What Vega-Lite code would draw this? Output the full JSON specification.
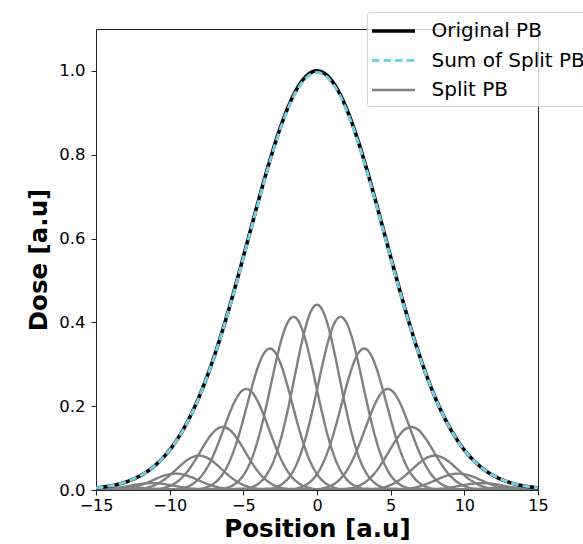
{
"$schema":"https://vega.github.io/schema/vega-lite/v6.json",
"width":442,"height":461,
"autosize":{"type":"none"},
"padding":{"left":96,"top":29,"right":45,"bottom":54},
"config":{"font":"DejaVu Sans","view":{"stroke":"#222","strokeWidth":1}},
"datasets":{
"orig":[{"x":-15,"y":0.0051,"s":"o"},{"x":-14.5,"y":0.0072,"s":"o"},{"x":-14,"y":0.01,"s":"o"},{"x":-13.5,"y":0.0139,"s":"o"},{"x":-13,"y":0.0189,"s":"o"},{"x":-12.5,"y":0.0255,"s":"o"},{"x":-12,"y":0.034,"s":"o"},{"x":-11.5,"y":0.0448,"s":"o"},{"x":-11,"y":0.0584,"s":"o"},{"x":-10.5,"y":0.0752,"s":"o"},{"x":-10,"y":0.0956,"s":"o"},{"x":-9.5,"y":0.1202,"s":"o"},{"x":-9,"y":0.1494,"s":"o"},{"x":-8.5,"y":0.1834,"s":"o"},{"x":-8,"y":0.2226,"s":"o"},{"x":-7.5,"y":0.267,"s":"o"},{"x":-7,"y":0.3166,"s":"o"},{"x":-6.5,"y":0.3709,"s":"o"},{"x":-6,"y":0.4295,"s":"o"},{"x":-5.5,"y":0.4916,"s":"o"},{"x":-5,"y":0.5561,"s":"o"},{"x":-4.5,"y":0.6217,"s":"o"},{"x":-4,"y":0.6869,"s":"o"},{"x":-3.5,"y":0.7501,"s":"o"},{"x":-3,"y":0.8096,"s":"o"},{"x":-2.5,"y":0.8635,"s":"o"},{"x":-2,"y":0.9104,"s":"o"},{"x":-1.5,"y":0.9486,"s":"o"},{"x":-1,"y":0.9768,"s":"o"},{"x":-0.5,"y":0.9942,"s":"o"},{"x":0,"y":1,"s":"o"},{"x":0.5,"y":0.9942,"s":"o"},{"x":1,"y":0.9768,"s":"o"},{"x":1.5,"y":0.9486,"s":"o"},{"x":2,"y":0.9104,"s":"o"},{"x":2.5,"y":0.8635,"s":"o"},{"x":3,"y":0.8096,"s":"o"},{"x":3.5,"y":0.7501,"s":"o"},{"x":4,"y":0.6869,"s":"o"},{"x":4.5,"y":0.6217,"s":"o"},{"x":5,"y":0.5561,"s":"o"},{"x":5.5,"y":0.4916,"s":"o"},{"x":6,"y":0.4295,"s":"o"},{"x":6.5,"y":0.3709,"s":"o"},{"x":7,"y":0.3166,"s":"o"},{"x":7.5,"y":0.267,"s":"o"},{"x":8,"y":0.2226,"s":"o"},{"x":8.5,"y":0.1834,"s":"o"},{"x":9,"y":0.1494,"s":"o"},{"x":9.5,"y":0.1202,"s":"o"},{"x":10,"y":0.0956,"s":"o"},{"x":10.5,"y":0.0752,"s":"o"},{"x":11,"y":0.0584,"s":"o"},{"x":11.5,"y":0.0448,"s":"o"},{"x":12,"y":0.034,"s":"o"},{"x":12.5,"y":0.0255,"s":"o"},{"x":13,"y":0.0189,"s":"o"},{"x":13.5,"y":0.0139,"s":"o"},{"x":14,"y":0.01,"s":"o"},{"x":14.5,"y":0.0072,"s":"o"},{"x":15,"y":0.0051,"s":"o"}],
"sum":[{"x":-15,"y":0.0051,"s":"s"},{"x":-14.5,"y":0.0072,"s":"s"},{"x":-14,"y":0.01,"s":"s"},{"x":-13.5,"y":0.0138,"s":"s"},{"x":-13,"y":0.0188,"s":"s"},{"x":-12.5,"y":0.0254,"s":"s"},{"x":-12,"y":0.0339,"s":"s"},{"x":-11.5,"y":0.0446,"s":"s"},{"x":-11,"y":0.0582,"s":"s"},{"x":-10.5,"y":0.0749,"s":"s"},{"x":-10,"y":0.0952,"s":"s"},{"x":-9.5,"y":0.1197,"s":"s"},{"x":-9,"y":0.1488,"s":"s"},{"x":-8.5,"y":0.1827,"s":"s"},{"x":-8,"y":0.2217,"s":"s"},{"x":-7.5,"y":0.2659,"s":"s"},{"x":-7,"y":0.3153,"s":"s"},{"x":-6.5,"y":0.3694,"s":"s"},{"x":-6,"y":0.4278,"s":"s"},{"x":-5.5,"y":0.4896,"s":"s"},{"x":-5,"y":0.5539,"s":"s"},{"x":-4.5,"y":0.6192,"s":"s"},{"x":-4,"y":0.6842,"s":"s"},{"x":-3.5,"y":0.7471,"s":"s"},{"x":-3,"y":0.8064,"s":"s"},{"x":-2.5,"y":0.86,"s":"s"},{"x":-2,"y":0.9068,"s":"s"},{"x":-1.5,"y":0.9448,"s":"s"},{"x":-1,"y":0.9729,"s":"s"},{"x":-0.5,"y":0.9902,"s":"s"},{"x":0,"y":0.996,"s":"s"},{"x":0.5,"y":0.9902,"s":"s"},{"x":1,"y":0.9729,"s":"s"},{"x":1.5,"y":0.9448,"s":"s"},{"x":2,"y":0.9068,"s":"s"},{"x":2.5,"y":0.86,"s":"s"},{"x":3,"y":0.8064,"s":"s"},{"x":3.5,"y":0.7471,"s":"s"},{"x":4,"y":0.6842,"s":"s"},{"x":4.5,"y":0.6192,"s":"s"},{"x":5,"y":0.5539,"s":"s"},{"x":5.5,"y":0.4896,"s":"s"},{"x":6,"y":0.4278,"s":"s"},{"x":6.5,"y":0.3694,"s":"s"},{"x":7,"y":0.3153,"s":"s"},{"x":7.5,"y":0.2659,"s":"s"},{"x":8,"y":0.2217,"s":"s"},{"x":8.5,"y":0.1827,"s":"s"},{"x":9,"y":0.1488,"s":"s"},{"x":9.5,"y":0.1197,"s":"s"},{"x":10,"y":0.0952,"s":"s"},{"x":10.5,"y":0.0749,"s":"s"},{"x":11,"y":0.0582,"s":"s"},{"x":11.5,"y":0.0446,"s":"s"},{"x":12,"y":0.0339,"s":"s"},{"x":12.5,"y":0.0254,"s":"s"},{"x":13,"y":0.0188,"s":"s"},{"x":13.5,"y":0.0138,"s":"s"},{"x":14,"y":0.01,"s":"s"},{"x":14.5,"y":0.0072,"s":"s"},{"x":15,"y":0.0051,"s":"s"}],
"split":[
{"x":-15,"y":0.0021,"b":-12.8,"s":"p"},{"x":-14.8,"y":0.0025,"b":-12.8,"s":"p"},{"x":-14.4,"y":0.0034,"b":-12.8,"s":"p"},{"x":-14,"y":0.0043,"b":-12.8,"s":"p"},{"x":-13.6,"y":0.0052,"b":-12.8,"s":"p"},{"x":-13.2,"y":0.0057,"b":-12.8,"s":"p"},{"x":-12.8,"y":0.0059,"b":-12.8,"s":"p"},{"x":-12.4,"y":0.0057,"b":-12.8,"s":"p"},{"x":-12,"y":0.0052,"b":-12.8,"s":"p"},{"x":-11.6,"y":0.0043,"b":-12.8,"s":"p"},{"x":-11.2,"y":0.0034,"b":-12.8,"s":"p"},{"x":-10.8,"y":0.0025,"b":-12.8,"s":"p"},{"x":-10.4,"y":0.0017,"b":-12.8,"s":"p"},{"x":-10,"y":0.0011,"b":-12.8,"s":"p"},{"x":-9.6,"y":0.0007,"b":-12.8,"s":"p"},{"x":-9.2,"y":0.0004,"b":-12.8,"s":"p"},{"x":-8.8,"y":0.0002,"b":-12.8,"s":"p"},{"x":-8.4,"y":0.0001,"b":-12.8,"s":"p"},{"x":-8,"y":0,"b":-12.8,"s":"p"},{"x":15,"y":0,"b":-12.8,"s":"p"},
{"x":-15,"y":0.0008,"b":-11.2,"s":"p"},{"x":-14.8,"y":0.001,"b":-11.2,"s":"p"},{"x":-14.4,"y":0.0018,"b":-11.2,"s":"p"},{"x":-14,"y":0.0031,"b":-11.2,"s":"p"},{"x":-13.6,"y":0.0048,"b":-11.2,"s":"p"},{"x":-13.2,"y":0.0069,"b":-11.2,"s":"p"},{"x":-12.8,"y":0.0094,"b":-11.2,"s":"p"},{"x":-12.4,"y":0.012,"b":-11.2,"s":"p"},{"x":-12,"y":0.0142,"b":-11.2,"s":"p"},{"x":-11.6,"y":0.0158,"b":-11.2,"s":"p"},{"x":-11.2,"y":0.0163,"b":-11.2,"s":"p"},{"x":-10.8,"y":0.0158,"b":-11.2,"s":"p"},{"x":-10.4,"y":0.0142,"b":-11.2,"s":"p"},{"x":-10,"y":0.012,"b":-11.2,"s":"p"},{"x":-9.6,"y":0.0094,"b":-11.2,"s":"p"},{"x":-9.2,"y":0.0069,"b":-11.2,"s":"p"},{"x":-8.8,"y":0.0048,"b":-11.2,"s":"p"},{"x":-8.4,"y":0.0031,"b":-11.2,"s":"p"},{"x":-8,"y":0.0018,"b":-11.2,"s":"p"},{"x":-7.6,"y":0.001,"b":-11.2,"s":"p"},{"x":-7.2,"y":0.0005,"b":-11.2,"s":"p"},{"x":-6.8,"y":0.0003,"b":-11.2,"s":"p"},{"x":-6.4,"y":0.0001,"b":-11.2,"s":"p"},{"x":15,"y":0,"b":-11.2,"s":"p"},
{"x":-15,"y":0,"b":-9.6,"s":"p"},{"x":-14.4,"y":0.0003,"b":-9.6,"s":"p"},{"x":-14,"y":0.0006,"b":-9.6,"s":"p"},{"x":-13.6,"y":0.0013,"b":-9.6,"s":"p"},{"x":-13.2,"y":0.0025,"b":-9.6,"s":"p"},{"x":-12.8,"y":0.0044,"b":-9.6,"s":"p"},{"x":-12.4,"y":0.0073,"b":-9.6,"s":"p"},{"x":-12,"y":0.0114,"b":-9.6,"s":"p"},{"x":-11.6,"y":0.0166,"b":-9.6,"s":"p"},{"x":-11.2,"y":0.0226,"b":-9.6,"s":"p"},{"x":-10.8,"y":0.0287,"b":-9.6,"s":"p"},{"x":-10.4,"y":0.0341,"b":-9.6,"s":"p"},{"x":-10,"y":0.0378,"b":-9.6,"s":"p"},{"x":-9.6,"y":0.0391,"b":-9.6,"s":"p"},{"x":-9.2,"y":0.0378,"b":-9.6,"s":"p"},{"x":-8.8,"y":0.0341,"b":-9.6,"s":"p"},{"x":-8.4,"y":0.0287,"b":-9.6,"s":"p"},{"x":-8,"y":0.0226,"b":-9.6,"s":"p"},{"x":-7.6,"y":0.0166,"b":-9.6,"s":"p"},{"x":-7.2,"y":0.0114,"b":-9.6,"s":"p"},{"x":-6.8,"y":0.0073,"b":-9.6,"s":"p"},{"x":-6.4,"y":0.0044,"b":-9.6,"s":"p"},{"x":-6,"y":0.0025,"b":-9.6,"s":"p"},{"x":-5.6,"y":0.0013,"b":-9.6,"s":"p"},{"x":-5.2,"y":0.0006,"b":-9.6,"s":"p"},{"x":-4.8,"y":0.0003,"b":-9.6,"s":"p"},{"x":15,"y":0,"b":-9.6,"s":"p"},
{"x":-15,"y":0,"b":-8,"s":"p"},{"x":-12.8,"y":0.0006,"b":-8,"s":"p"},{"x":-12.4,"y":0.0013,"b":-8,"s":"p"},{"x":-12,"y":0.0027,"b":-8,"s":"p"},{"x":-11.6,"y":0.0051,"b":-8,"s":"p"},{"x":-11.2,"y":0.0092,"b":-8,"s":"p"},{"x":-10.8,"y":0.0154,"b":-8,"s":"p"},{"x":-10.4,"y":0.024,"b":-8,"s":"p"},{"x":-10,"y":0.0349,"b":-8,"s":"p"},{"x":-9.6,"y":0.0475,"b":-8,"s":"p"},{"x":-9.2,"y":0.0603,"b":-8,"s":"p"},{"x":-8.8,"y":0.0715,"b":-8,"s":"p"},{"x":-8.4,"y":0.0792,"b":-8,"s":"p"},{"x":-8,"y":0.082,"b":-8,"s":"p"},{"x":-7.6,"y":0.0792,"b":-8,"s":"p"},{"x":-7.2,"y":0.0715,"b":-8,"s":"p"},{"x":-6.8,"y":0.0603,"b":-8,"s":"p"},{"x":-6.4,"y":0.0475,"b":-8,"s":"p"},{"x":-6,"y":0.0349,"b":-8,"s":"p"},{"x":-5.6,"y":0.024,"b":-8,"s":"p"},{"x":-5.2,"y":0.0154,"b":-8,"s":"p"},{"x":-4.8,"y":0.0092,"b":-8,"s":"p"},{"x":-4.4,"y":0.0051,"b":-8,"s":"p"},{"x":-4,"y":0.0027,"b":-8,"s":"p"},{"x":-3.6,"y":0.0013,"b":-8,"s":"p"},{"x":-3.2,"y":0.0006,"b":-8,"s":"p"},{"x":15,"y":0,"b":-8,"s":"p"},
{"x":-15,"y":0,"b":-6.4,"s":"p"},{"x":-11.2,"y":0.0011,"b":-6.4,"s":"p"},{"x":-10.8,"y":0.0024,"b":-6.4,"s":"p"},{"x":-10.4,"y":0.0049,"b":-6.4,"s":"p"},{"x":-10,"y":0.0094,"b":-6.4,"s":"p"},{"x":-9.6,"y":0.0169,"b":-6.4,"s":"p"},{"x":-9.2,"y":0.0282,"b":-6.4,"s":"p"},{"x":-8.8,"y":0.0439,"b":-6.4,"s":"p"},{"x":-8.4,"y":0.064,"b":-6.4,"s":"p"},{"x":-8,"y":0.087,"b":-6.4,"s":"p"},{"x":-7.6,"y":0.1106,"b":-6.4,"s":"p"},{"x":-7.2,"y":0.1312,"b":-6.4,"s":"p"},{"x":-6.8,"y":0.1454,"b":-6.4,"s":"p"},{"x":-6.4,"y":0.1504,"b":-6.4,"s":"p"},{"x":-6,"y":0.1454,"b":-6.4,"s":"p"},{"x":-5.6,"y":0.1312,"b":-6.4,"s":"p"},{"x":-5.2,"y":0.1106,"b":-6.4,"s":"p"},{"x":-4.8,"y":0.087,"b":-6.4,"s":"p"},{"x":-4.4,"y":0.064,"b":-6.4,"s":"p"},{"x":-4,"y":0.0439,"b":-6.4,"s":"p"},{"x":-3.6,"y":0.0282,"b":-6.4,"s":"p"},{"x":-3.2,"y":0.0169,"b":-6.4,"s":"p"},{"x":-2.8,"y":0.0094,"b":-6.4,"s":"p"},{"x":-2.4,"y":0.0049,"b":-6.4,"s":"p"},{"x":-2,"y":0.0024,"b":-6.4,"s":"p"},{"x":-1.6,"y":0.0011,"b":-6.4,"s":"p"},{"x":15,"y":0,"b":-6.4,"s":"p"},
{"x":-15,"y":0,"b":-4.8,"s":"p"},{"x":-9.6,"y":0.0018,"b":-4.8,"s":"p"},{"x":-9.2,"y":0.0039,"b":-4.8,"s":"p"},{"x":-8.8,"y":0.0079,"b":-4.8,"s":"p"},{"x":-8.4,"y":0.0151,"b":-4.8,"s":"p"},{"x":-8,"y":0.027,"b":-4.8,"s":"p"},{"x":-7.6,"y":0.0451,"b":-4.8,"s":"p"},{"x":-7.2,"y":0.0704,"b":-4.8,"s":"p"},{"x":-6.8,"y":0.1025,"b":-4.8,"s":"p"},{"x":-6.4,"y":0.1395,"b":-4.8,"s":"p"},{"x":-6,"y":0.1772,"b":-4.8,"s":"p"},{"x":-5.6,"y":0.2102,"b":-4.8,"s":"p"},{"x":-5.2,"y":0.2329,"b":-4.8,"s":"p"},{"x":-4.8,"y":0.241,"b":-4.8,"s":"p"},{"x":-4.4,"y":0.2329,"b":-4.8,"s":"p"},{"x":-4,"y":0.2102,"b":-4.8,"s":"p"},{"x":-3.6,"y":0.1772,"b":-4.8,"s":"p"},{"x":-3.2,"y":0.1395,"b":-4.8,"s":"p"},{"x":-2.8,"y":0.1025,"b":-4.8,"s":"p"},{"x":-2.4,"y":0.0704,"b":-4.8,"s":"p"},{"x":-2,"y":0.0451,"b":-4.8,"s":"p"},{"x":-1.6,"y":0.027,"b":-4.8,"s":"p"},{"x":-1.2,"y":0.0151,"b":-4.8,"s":"p"},{"x":-0.8,"y":0.0079,"b":-4.8,"s":"p"},{"x":-0.4,"y":0.0039,"b":-4.8,"s":"p"},{"x":0,"y":0.0018,"b":-4.8,"s":"p"},{"x":15,"y":0,"b":-4.8,"s":"p"},
{"x":-15,"y":0,"b":-3.2,"s":"p"},{"x":-8,"y":0.0025,"b":-3.2,"s":"p"},{"x":-7.6,"y":0.0054,"b":-3.2,"s":"p"},{"x":-7.2,"y":0.011,"b":-3.2,"s":"p"},{"x":-6.8,"y":0.0212,"b":-3.2,"s":"p"},{"x":-6.4,"y":0.0378,"b":-3.2,"s":"p"},{"x":-6,"y":0.0632,"b":-3.2,"s":"p"},{"x":-5.6,"y":0.0986,"b":-3.2,"s":"p"},{"x":-5.2,"y":0.1436,"b":-3.2,"s":"p"},{"x":-4.8,"y":0.1954,"b":-3.2,"s":"p"},{"x":-4.4,"y":0.2482,"b":-3.2,"s":"p"},{"x":-4,"y":0.2945,"b":-3.2,"s":"p"},{"x":-3.6,"y":0.3263,"b":-3.2,"s":"p"},{"x":-3.2,"y":0.3376,"b":-3.2,"s":"p"},{"x":-2.8,"y":0.3263,"b":-3.2,"s":"p"},{"x":-2.4,"y":0.2945,"b":-3.2,"s":"p"},{"x":-2,"y":0.2482,"b":-3.2,"s":"p"},{"x":-1.6,"y":0.1954,"b":-3.2,"s":"p"},{"x":-1.2,"y":0.1436,"b":-3.2,"s":"p"},{"x":-0.8,"y":0.0986,"b":-3.2,"s":"p"},{"x":-0.4,"y":0.0632,"b":-3.2,"s":"p"},{"x":0,"y":0.0378,"b":-3.2,"s":"p"},{"x":0.4,"y":0.0212,"b":-3.2,"s":"p"},{"x":0.8,"y":0.011,"b":-3.2,"s":"p"},{"x":1.2,"y":0.0054,"b":-3.2,"s":"p"},{"x":1.6,"y":0.0025,"b":-3.2,"s":"p"},{"x":15,"y":0,"b":-3.2,"s":"p"},
{"x":-15,"y":0,"b":-1.6,"s":"p"},{"x":-6.4,"y":0.003,"b":-1.6,"s":"p"},{"x":-6,"y":0.0066,"b":-1.6,"s":"p"},{"x":-5.6,"y":0.0135,"b":-1.6,"s":"p"},{"x":-5.2,"y":0.0259,"b":-1.6,"s":"p"},{"x":-4.8,"y":0.0463,"b":-1.6,"s":"p"},{"x":-4.4,"y":0.0774,"b":-1.6,"s":"p"},{"x":-4,"y":0.1207,"b":-1.6,"s":"p"},{"x":-3.6,"y":0.1758,"b":-1.6,"s":"p"},{"x":-3.2,"y":0.2391,"b":-1.6,"s":"p"},{"x":-2.8,"y":0.3037,"b":-1.6,"s":"p"},{"x":-2.4,"y":0.3604,"b":-1.6,"s":"p"},{"x":-2,"y":0.3993,"b":-1.6,"s":"p"},{"x":-1.6,"y":0.4132,"b":-1.6,"s":"p"},{"x":-1.2,"y":0.3993,"b":-1.6,"s":"p"},{"x":-0.8,"y":0.3604,"b":-1.6,"s":"p"},{"x":-0.4,"y":0.3037,"b":-1.6,"s":"p"},{"x":0,"y":0.2391,"b":-1.6,"s":"p"},{"x":0.4,"y":0.1758,"b":-1.6,"s":"p"},{"x":0.8,"y":0.1207,"b":-1.6,"s":"p"},{"x":1.2,"y":0.0774,"b":-1.6,"s":"p"},{"x":1.6,"y":0.0463,"b":-1.6,"s":"p"},{"x":2,"y":0.0259,"b":-1.6,"s":"p"},{"x":2.4,"y":0.0135,"b":-1.6,"s":"p"},{"x":2.8,"y":0.0066,"b":-1.6,"s":"p"},{"x":3.2,"y":0.003,"b":-1.6,"s":"p"},{"x":15,"y":0,"b":-1.6,"s":"p"},
{"x":-15,"y":0,"b":0,"s":"p"},{"x":-4.8,"y":0.0032,"b":0,"s":"p"},{"x":-4.4,"y":0.0071,"b":0,"s":"p"},{"x":-4,"y":0.0145,"b":0,"s":"p"},{"x":-3.6,"y":0.0277,"b":0,"s":"p"},{"x":-3.2,"y":0.0495,"b":0,"s":"p"},{"x":-2.8,"y":0.0828,"b":0,"s":"p"},{"x":-2.4,"y":0.1291,"b":0,"s":"p"},{"x":-2,"y":0.188,"b":0,"s":"p"},{"x":-1.6,"y":0.2558,"b":0,"s":"p"},{"x":-1.2,"y":0.3249,"b":0,"s":"p"},{"x":-0.8,"y":0.3855,"b":0,"s":"p"},{"x":-0.4,"y":0.4272,"b":0,"s":"p"},{"x":0,"y":0.442,"b":0,"s":"p"},{"x":0.4,"y":0.4272,"b":0,"s":"p"},{"x":0.8,"y":0.3855,"b":0,"s":"p"},{"x":1.2,"y":0.3249,"b":0,"s":"p"},{"x":1.6,"y":0.2558,"b":0,"s":"p"},{"x":2,"y":0.188,"b":0,"s":"p"},{"x":2.4,"y":0.1291,"b":0,"s":"p"},{"x":2.8,"y":0.0828,"b":0,"s":"p"},{"x":3.2,"y":0.0495,"b":0,"s":"p"},{"x":3.6,"y":0.0277,"b":0,"s":"p"},{"x":4,"y":0.0145,"b":0,"s":"p"},{"x":4.4,"y":0.0071,"b":0,"s":"p"},{"x":4.8,"y":0.0032,"b":0,"s":"p"},{"x":15,"y":0,"b":0,"s":"p"},
{"x":-15,"y":0,"b":1.6,"s":"p"},{"x":-3.2,"y":0.003,"b":1.6,"s":"p"},{"x":-2.8,"y":0.0066,"b":1.6,"s":"p"},{"x":-2.4,"y":0.0135,"b":1.6,"s":"p"},{"x":-2,"y":0.0259,"b":1.6,"s":"p"},{"x":-1.6,"y":0.0463,"b":1.6,"s":"p"},{"x":-1.2,"y":0.0774,"b":1.6,"s":"p"},{"x":-0.8,"y":0.1207,"b":1.6,"s":"p"},{"x":-0.4,"y":0.1758,"b":1.6,"s":"p"},{"x":0,"y":0.2391,"b":1.6,"s":"p"},{"x":0.4,"y":0.3037,"b":1.6,"s":"p"},{"x":0.8,"y":0.3604,"b":1.6,"s":"p"},{"x":1.2,"y":0.3993,"b":1.6,"s":"p"},{"x":1.6,"y":0.4132,"b":1.6,"s":"p"},{"x":2,"y":0.3993,"b":1.6,"s":"p"},{"x":2.4,"y":0.3604,"b":1.6,"s":"p"},{"x":2.8,"y":0.3037,"b":1.6,"s":"p"},{"x":3.2,"y":0.2391,"b":1.6,"s":"p"},{"x":3.6,"y":0.1758,"b":1.6,"s":"p"},{"x":4,"y":0.1207,"b":1.6,"s":"p"},{"x":4.4,"y":0.0774,"b":1.6,"s":"p"},{"x":4.8,"y":0.0463,"b":1.6,"s":"p"},{"x":5.2,"y":0.0259,"b":1.6,"s":"p"},{"x":5.6,"y":0.0135,"b":1.6,"s":"p"},{"x":6,"y":0.0066,"b":1.6,"s":"p"},{"x":6.4,"y":0.003,"b":1.6,"s":"p"},{"x":15,"y":0,"b":1.6,"s":"p"},
{"x":-15,"y":0,"b":3.2,"s":"p"},{"x":-1.6,"y":0.0025,"b":3.2,"s":"p"},{"x":-1.2,"y":0.0054,"b":3.2,"s":"p"},{"x":-0.8,"y":0.011,"b":3.2,"s":"p"},{"x":-0.4,"y":0.0212,"b":3.2,"s":"p"},{"x":0,"y":0.0378,"b":3.2,"s":"p"},{"x":0.4,"y":0.0632,"b":3.2,"s":"p"},{"x":0.8,"y":0.0986,"b":3.2,"s":"p"},{"x":1.2,"y":0.1436,"b":3.2,"s":"p"},{"x":1.6,"y":0.1954,"b":3.2,"s":"p"},{"x":2,"y":0.2482,"b":3.2,"s":"p"},{"x":2.4,"y":0.2945,"b":3.2,"s":"p"},{"x":2.8,"y":0.3263,"b":3.2,"s":"p"},{"x":3.2,"y":0.3376,"b":3.2,"s":"p"},{"x":3.6,"y":0.3263,"b":3.2,"s":"p"},{"x":4,"y":0.2945,"b":3.2,"s":"p"},{"x":4.4,"y":0.2482,"b":3.2,"s":"p"},{"x":4.8,"y":0.1954,"b":3.2,"s":"p"},{"x":5.2,"y":0.1436,"b":3.2,"s":"p"},{"x":5.6,"y":0.0986,"b":3.2,"s":"p"},{"x":6,"y":0.0632,"b":3.2,"s":"p"},{"x":6.4,"y":0.0378,"b":3.2,"s":"p"},{"x":6.8,"y":0.0212,"b":3.2,"s":"p"},{"x":7.2,"y":0.011,"b":3.2,"s":"p"},{"x":7.6,"y":0.0054,"b":3.2,"s":"p"},{"x":8,"y":0.0025,"b":3.2,"s":"p"},{"x":15,"y":0,"b":3.2,"s":"p"},
{"x":-15,"y":0,"b":4.8,"s":"p"},{"x":0,"y":0.0018,"b":4.8,"s":"p"},{"x":0.4,"y":0.0039,"b":4.8,"s":"p"},{"x":0.8,"y":0.0079,"b":4.8,"s":"p"},{"x":1.2,"y":0.0151,"b":4.8,"s":"p"},{"x":1.6,"y":0.027,"b":4.8,"s":"p"},{"x":2,"y":0.0451,"b":4.8,"s":"p"},{"x":2.4,"y":0.0704,"b":4.8,"s":"p"},{"x":2.8,"y":0.1025,"b":4.8,"s":"p"},{"x":3.2,"y":0.1395,"b":4.8,"s":"p"},{"x":3.6,"y":0.1772,"b":4.8,"s":"p"},{"x":4,"y":0.2102,"b":4.8,"s":"p"},{"x":4.4,"y":0.2329,"b":4.8,"s":"p"},{"x":4.8,"y":0.241,"b":4.8,"s":"p"},{"x":5.2,"y":0.2329,"b":4.8,"s":"p"},{"x":5.6,"y":0.2102,"b":4.8,"s":"p"},{"x":6,"y":0.1772,"b":4.8,"s":"p"},{"x":6.4,"y":0.1395,"b":4.8,"s":"p"},{"x":6.8,"y":0.1025,"b":4.8,"s":"p"},{"x":7.2,"y":0.0704,"b":4.8,"s":"p"},{"x":7.6,"y":0.0451,"b":4.8,"s":"p"},{"x":8,"y":0.027,"b":4.8,"s":"p"},{"x":8.4,"y":0.0151,"b":4.8,"s":"p"},{"x":8.8,"y":0.0079,"b":4.8,"s":"p"},{"x":9.2,"y":0.0039,"b":4.8,"s":"p"},{"x":9.6,"y":0.0018,"b":4.8,"s":"p"},{"x":15,"y":0,"b":4.8,"s":"p"},
{"x":-15,"y":0,"b":6.4,"s":"p"},{"x":1.6,"y":0.0011,"b":6.4,"s":"p"},{"x":2,"y":0.0024,"b":6.4,"s":"p"},{"x":2.4,"y":0.0049,"b":6.4,"s":"p"},{"x":2.8,"y":0.0094,"b":6.4,"s":"p"},{"x":3.2,"y":0.0169,"b":6.4,"s":"p"},{"x":3.6,"y":0.0282,"b":6.4,"s":"p"},{"x":4,"y":0.0439,"b":6.4,"s":"p"},{"x":4.4,"y":0.064,"b":6.4,"s":"p"},{"x":4.8,"y":0.087,"b":6.4,"s":"p"},{"x":5.2,"y":0.1106,"b":6.4,"s":"p"},{"x":5.6,"y":0.1312,"b":6.4,"s":"p"},{"x":6,"y":0.1454,"b":6.4,"s":"p"},{"x":6.4,"y":0.1504,"b":6.4,"s":"p"},{"x":6.8,"y":0.1454,"b":6.4,"s":"p"},{"x":7.2,"y":0.1312,"b":6.4,"s":"p"},{"x":7.6,"y":0.1106,"b":6.4,"s":"p"},{"x":8,"y":0.087,"b":6.4,"s":"p"},{"x":8.4,"y":0.064,"b":6.4,"s":"p"},{"x":8.8,"y":0.0439,"b":6.4,"s":"p"},{"x":9.2,"y":0.0282,"b":6.4,"s":"p"},{"x":9.6,"y":0.0169,"b":6.4,"s":"p"},{"x":10,"y":0.0094,"b":6.4,"s":"p"},{"x":10.4,"y":0.0049,"b":6.4,"s":"p"},{"x":10.8,"y":0.0024,"b":6.4,"s":"p"},{"x":11.2,"y":0.0011,"b":6.4,"s":"p"},{"x":15,"y":0,"b":6.4,"s":"p"},
{"x":-15,"y":0,"b":8,"s":"p"},{"x":3.2,"y":0.0006,"b":8,"s":"p"},{"x":3.6,"y":0.0013,"b":8,"s":"p"},{"x":4,"y":0.0027,"b":8,"s":"p"},{"x":4.4,"y":0.0051,"b":8,"s":"p"},{"x":4.8,"y":0.0092,"b":8,"s":"p"},{"x":5.2,"y":0.0154,"b":8,"s":"p"},{"x":5.6,"y":0.024,"b":8,"s":"p"},{"x":6,"y":0.0349,"b":8,"s":"p"},{"x":6.4,"y":0.0475,"b":8,"s":"p"},{"x":6.8,"y":0.0603,"b":8,"s":"p"},{"x":7.2,"y":0.0715,"b":8,"s":"p"},{"x":7.6,"y":0.0792,"b":8,"s":"p"},{"x":8,"y":0.082,"b":8,"s":"p"},{"x":8.4,"y":0.0792,"b":8,"s":"p"},{"x":8.8,"y":0.0715,"b":8,"s":"p"},{"x":9.2,"y":0.0603,"b":8,"s":"p"},{"x":9.6,"y":0.0475,"b":8,"s":"p"},{"x":10,"y":0.0349,"b":8,"s":"p"},{"x":10.4,"y":0.024,"b":8,"s":"p"},{"x":10.8,"y":0.0154,"b":8,"s":"p"},{"x":11.2,"y":0.0092,"b":8,"s":"p"},{"x":11.6,"y":0.0051,"b":8,"s":"p"},{"x":12,"y":0.0027,"b":8,"s":"p"},{"x":12.4,"y":0.0013,"b":8,"s":"p"},{"x":12.8,"y":0.0006,"b":8,"s":"p"},{"x":15,"y":0,"b":8,"s":"p"},
{"x":-15,"y":0,"b":9.6,"s":"p"},{"x":4.8,"y":0.0003,"b":9.6,"s":"p"},{"x":5.2,"y":0.0006,"b":9.6,"s":"p"},{"x":5.6,"y":0.0013,"b":9.6,"s":"p"},{"x":6,"y":0.0025,"b":9.6,"s":"p"},{"x":6.4,"y":0.0044,"b":9.6,"s":"p"},{"x":6.8,"y":0.0073,"b":9.6,"s":"p"},{"x":7.2,"y":0.0114,"b":9.6,"s":"p"},{"x":7.6,"y":0.0166,"b":9.6,"s":"p"},{"x":8,"y":0.0226,"b":9.6,"s":"p"},{"x":8.4,"y":0.0287,"b":9.6,"s":"p"},{"x":8.8,"y":0.0341,"b":9.6,"s":"p"},{"x":9.2,"y":0.0378,"b":9.6,"s":"p"},{"x":9.6,"y":0.0391,"b":9.6,"s":"p"},{"x":10,"y":0.0378,"b":9.6,"s":"p"},{"x":10.4,"y":0.0341,"b":9.6,"s":"p"},{"x":10.8,"y":0.0287,"b":9.6,"s":"p"},{"x":11.2,"y":0.0226,"b":9.6,"s":"p"},{"x":11.6,"y":0.0166,"b":9.6,"s":"p"},{"x":12,"y":0.0114,"b":9.6,"s":"p"},{"x":12.4,"y":0.0073,"b":9.6,"s":"p"},{"x":12.8,"y":0.0044,"b":9.6,"s":"p"},{"x":13.2,"y":0.0025,"b":9.6,"s":"p"},{"x":13.6,"y":0.0013,"b":9.6,"s":"p"},{"x":14,"y":0.0006,"b":9.6,"s":"p"},{"x":14.4,"y":0.0003,"b":9.6,"s":"p"},{"x":15,"y":0,"b":9.6,"s":"p"},
{"x":-15,"y":0,"b":11.2,"s":"p"},{"x":6.4,"y":0.0001,"b":11.2,"s":"p"},{"x":6.8,"y":0.0003,"b":11.2,"s":"p"},{"x":7.2,"y":0.0005,"b":11.2,"s":"p"},{"x":7.6,"y":0.001,"b":11.2,"s":"p"},{"x":8,"y":0.0018,"b":11.2,"s":"p"},{"x":8.4,"y":0.0031,"b":11.2,"s":"p"},{"x":8.8,"y":0.0048,"b":11.2,"s":"p"},{"x":9.2,"y":0.0069,"b":11.2,"s":"p"},{"x":9.6,"y":0.0094,"b":11.2,"s":"p"},{"x":10,"y":0.012,"b":11.2,"s":"p"},{"x":10.4,"y":0.0142,"b":11.2,"s":"p"},{"x":10.8,"y":0.0158,"b":11.2,"s":"p"},{"x":11.2,"y":0.0163,"b":11.2,"s":"p"},{"x":11.6,"y":0.0158,"b":11.2,"s":"p"},{"x":12,"y":0.0142,"b":11.2,"s":"p"},{"x":12.4,"y":0.012,"b":11.2,"s":"p"},{"x":12.8,"y":0.0094,"b":11.2,"s":"p"},{"x":13.2,"y":0.0069,"b":11.2,"s":"p"},{"x":13.6,"y":0.0048,"b":11.2,"s":"p"},{"x":14,"y":0.0031,"b":11.2,"s":"p"},{"x":14.4,"y":0.0018,"b":11.2,"s":"p"},{"x":14.8,"y":0.001,"b":11.2,"s":"p"},{"x":15,"y":0.0008,"b":11.2,"s":"p"},
{"x":-15,"y":0,"b":12.8,"s":"p"},{"x":8,"y":0,"b":12.8,"s":"p"},{"x":8.4,"y":0.0001,"b":12.8,"s":"p"},{"x":8.8,"y":0.0002,"b":12.8,"s":"p"},{"x":9.2,"y":0.0004,"b":12.8,"s":"p"},{"x":9.6,"y":0.0007,"b":12.8,"s":"p"},{"x":10,"y":0.0011,"b":12.8,"s":"p"},{"x":10.4,"y":0.0017,"b":12.8,"s":"p"},{"x":10.8,"y":0.0025,"b":12.8,"s":"p"},{"x":11.2,"y":0.0034,"b":12.8,"s":"p"},{"x":11.6,"y":0.0043,"b":12.8,"s":"p"},{"x":12,"y":0.0052,"b":12.8,"s":"p"},{"x":12.4,"y":0.0057,"b":12.8,"s":"p"},{"x":12.8,"y":0.0059,"b":12.8,"s":"p"},{"x":13.2,"y":0.0057,"b":12.8,"s":"p"},{"x":13.6,"y":0.0052,"b":12.8,"s":"p"},{"x":14,"y":0.0043,"b":12.8,"s":"p"},{"x":14.4,"y":0.0034,"b":12.8,"s":"p"},{"x":14.8,"y":0.0025,"b":12.8,"s":"p"},{"x":15,"y":0.0021,"b":12.8,"s":"p"}
]},
"encoding":{
"x":{"field":"x","type":"quantitative","scale":{"domain":[-15,15],"nice":false,"zero":false},
 "axis":{"values":[-15,-10,-5,0,5,10,15],"title":"Position [a.u]","titleFontSize":24.5,"titleFontWeight":"bold","titleColor":"#000","titlePadding":4,"labelFontSize":16,"labelColor":"#000","labelPadding":2,"labelFlush":false,"labelOverlap":false,"tickSize":5,"tickColor":"#222","domain":false,"grid":false}},
"y":{"field":"y","type":"quantitative","scale":{"domain":[0,1.1],"nice":false,"zero":false},
 "axis":{"values":[0,0.2,0.4,0.6,0.8,1.0],"format":".1f","title":"Dose [a.u]","titleFontSize":24.5,"titleFontWeight":"bold","titleColor":"#000","titlePadding":7,"labelFontSize":16.5,"labelColor":"#000","labelPadding":6,"labelFlush":false,"tickSize":5,"tickColor":"#222","domain":false,"grid":false}},
"color":{"field":"s","type":"nominal","scale":{"domain":["o","s","p"],"range":["#000000","#74cfe6","#808080"]},
 "legend":{"title":null,"orient":"none","legendX":271,"legendY":-17,"symbolType":"M-2,0L2,0","symbolSize":462,"symbolOffset":7.5,"labelOffset":25,"labelFontSize":20,"labelColor":"#000","labelFont":"DejaVu Sans","padding":6,"rowPadding":7,"strokeColor":"#d0d0d0","fillColor":"rgba(255,255,255,0.8)","cornerRadius":3,"labelExpr":"datum.value=='o'?'Original PB':datum.value=='s'?'Sum of Split PB':'Split PB'"}},
"strokeDash":{"field":"s","type":"nominal","scale":{"domain":["o","s","p"],"range":[[1,0],[7.5,4],[1,0]]}},
"strokeWidth":{"field":"s","type":"nominal","scale":{"domain":["o","s","p"],"range":[3.6,2.4,1.9]}}
},
"layer":[
{"data":{"name":"split"},"mark":{"type":"line","interpolate":"monotone","clip":true},"encoding":{"detail":{"field":"b","type":"nominal"}}},
{"data":{"name":"orig"},"mark":{"type":"line","interpolate":"monotone","clip":true}},
{"data":{"name":"sum"},"mark":{"type":"line","interpolate":"monotone","clip":true,"strokeCap":"butt"}}
]
}
